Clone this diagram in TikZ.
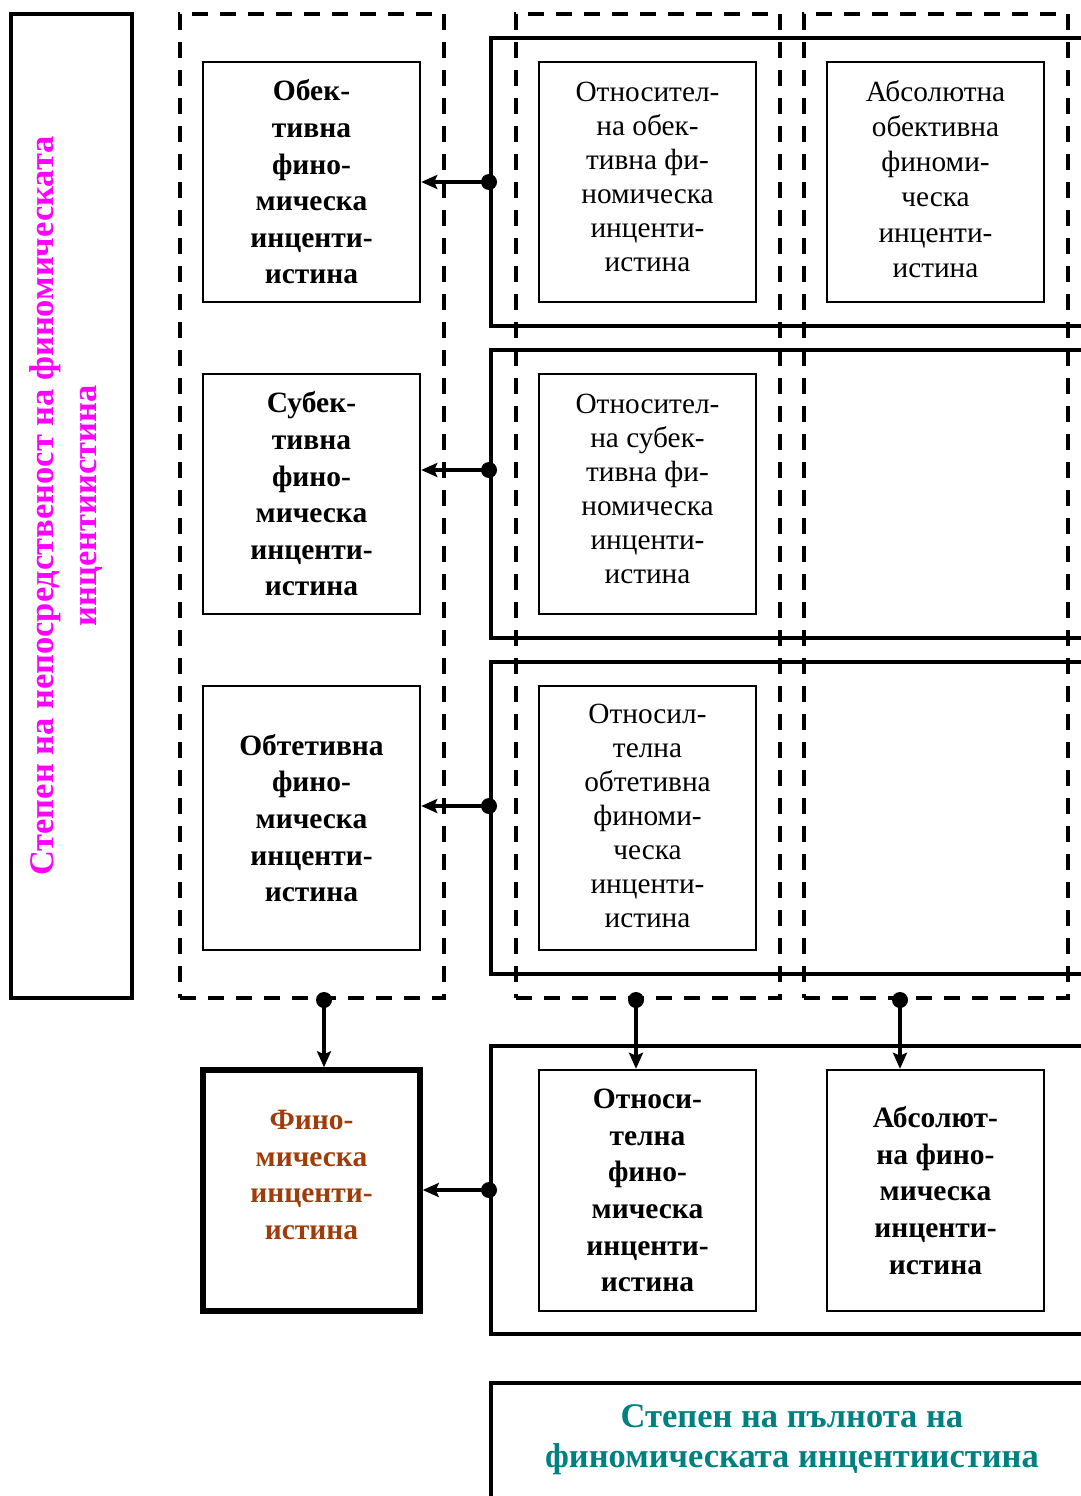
\documentclass[tikz,border=0pt]{standalone}
\usepackage{fontspec}
\setmainfont{Liberation Serif}
\usetikzlibrary{arrows.meta,calc}
\definecolor{mag}{RGB}{255,0,255}
\definecolor{brn}{RGB}{160,60,10}
\definecolor{tealc}{RGB}{0,128,128}
\begin{document}
\begin{tikzpicture}[x=1pt,y=-1pt,
  ibox/.style={draw, line width=2.5pt, minimum width=217pt, minimum height=240pt, align=center, inner sep=0pt},
  btxt/.style={font=\fontsize{29.5}{36.6}\selectfont\bfseries},
  ntxt/.style={font=\fontsize{29.3}{34}\selectfont},
  rowbox/.style={draw, line width=4pt, minimum width=609pt, inner sep=0pt},
  dcol/.style={draw, line width=4pt, dash pattern=on 16pt off 12pt, minimum width=264pt, minimum height=984pt, inner sep=0pt},
  arr/.style={line width=3.5pt, -{Stealth[length=16pt,width=14pt,inset=3pt]}},
  dotc/.style={circle, fill, inner sep=0pt, minimum size=16pt}]
\useasboundingbox (0,0) rectangle (1081,1496);
\clip (0,0) rectangle (1081,1496);

% left magenta box
\node[draw, line width=4pt, minimum width=121pt, minimum height=984pt, inner sep=0pt] (S) at (71.5,506) {};
\node[rotate=90, text=mag, align=center, font=\fontsize{34.5}{43}\selectfont\bfseries] (St) at (66.5,506)
  {Степен на непосредственост на финомическата\\инцентиистина};

% solid row boxes
\node[rowbox, minimum height=288pt] (R1) at (795.5,182) {};
\node[rowbox, minimum height=288pt] (R2) at (795.5,494) {};
\node[rowbox, minimum height=312pt] (R3) at (795.5,818) {};
\node[rowbox, minimum height=288pt] (R4) at (795.5,1190) {};
\node[rowbox, minimum height=137pt] (R5) at (795.5,1451.5) {};

% dashed columns
\node[dcol] (C1) at (312,506) {};
\node[dcol] (C2) at (648,506) {};
\node[dcol] (C3) at (936,506) {};

% left boxes
\node[ibox, btxt] (L1) at (311.5,182) {Обек-\\тивна\\фино-\\мическа\\инценти-\\истина};
\node[ibox, btxt] (L2) at (311.5,494) {Субек-\\тивна\\фино-\\мическа\\инценти-\\истина};
\node[ibox, btxt, minimum height=264pt] (L3) at (311.5,818) {Обтетивна\\фино-\\мическа\\инценти-\\истина};

% middle boxes
\node[ibox] (M1) at (647.5,182) {};
\node[ntxt, align=center] (M1t) at (647.5,177) {Относител-\\на обек-\\тивна фи-\\номическа\\инценти-\\истина};
\node[ibox] (M2) at (647.5,494) {};
\node[ntxt, align=center] (M2t) at (647.5,489) {Относител-\\на субек-\\тивна фи-\\номическа\\инценти-\\истина};
\node[ibox, minimum height=264pt] (M3) at (647.5,818) {};
\node[ntxt, align=center] (M3t) at (647.5,816) {Относил-\\телна\\обтетивна\\финоми-\\ческа\\инценти-\\истина};

% right box
\node[ibox] (A1) at (935.5,182) {};
\node[ntxt, align=center, font=\fontsize{29.3}{35.2}\selectfont] (A1t) at (935.5,179) {Абсолютна\\обективна\\финоми-\\ческа\\инценти-\\истина};

% bottom boxes
\node[ibox, line width=5.5pt, minimum height=241pt] (F) at (311.5,1190.5) {};
\node[btxt, text=brn, align=center] (Ft) at (311.5,1175) {Фино-\\мическа\\инценти-\\истина};
\node[ibox, btxt, minimum height=241pt] (M4) at (647.5,1190.5) {Относи-\\телна\\фино-\\мическа\\инценти-\\истина};
\node[ibox, btxt, minimum height=241pt] (A4) at (935.5,1190.5) {Абсолют-\\на фино-\\мическа\\инценти-\\истина};

% bottom caption
\node[text=tealc, align=center, font=\fontsize{34.5}{40}\selectfont\bfseries] (T) at (792,1440)
  {Степен на пълнота на\\финомическата инцентиистина};

% horizontal arrows
\draw[arr] (R1.west) -- (L1.east);
\node[dotc] at (R1.west) {};
\coordinate (h2) at ($(R2.west)+(0,-24)$);
\draw[arr] (h2) -- (h2 -| L2.east);
\node[dotc] at (h2) {};
\coordinate (h3) at ($(R3.west)+(0,-12)$);
\draw[arr] (h3) -- (h3 -| L3.east);
\node[dotc] at (h3) {};
\draw[arr] (R4.west) -- (R4.west -| F.east);
\node[dotc] at (R4.west) {};

% vertical arrows
\coordinate (d1) at ($(C1.south)+(12,0)$);
\draw[arr] (d1) -- (d1 |- F.north);
\node[dotc] at (d1) {};
\coordinate (d2) at ($(C2.south)+(-12,0)$);
\draw[arr] (d2) -- (d2 |- M4.north);
\node[dotc] at (d2) {};
\coordinate (d3) at ($(C3.south)+(-36,0)$);
\draw[arr] (d3) -- (d3 |- A4.north);
\node[dotc] at (d3) {};
\end{tikzpicture}
\end{document}
